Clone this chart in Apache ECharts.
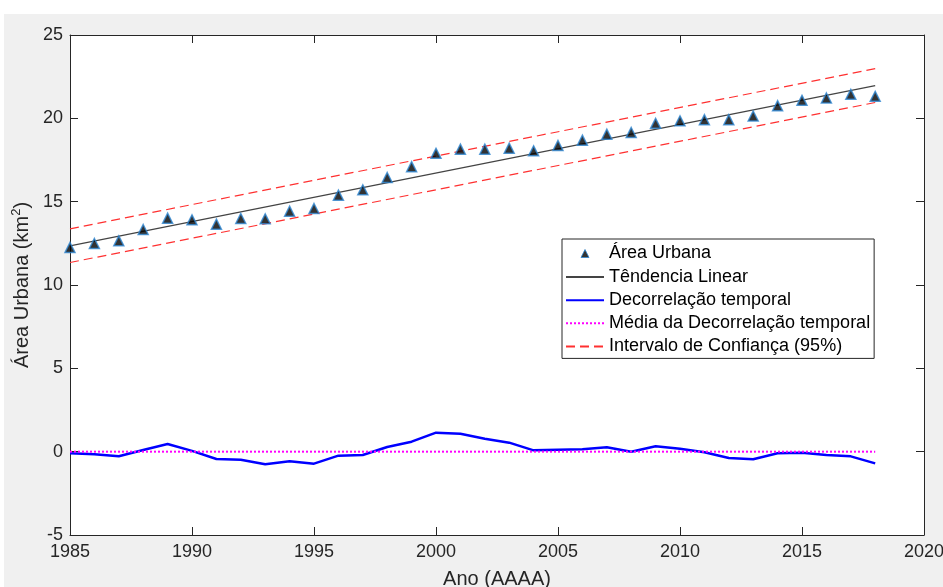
<!DOCTYPE html>
<html>
<head>
<meta charset="utf-8">
<script src="https://cdn.jsdelivr.net/npm/echarts@6/dist/echarts.min.js"></script>
<style>
  html, body { margin: 0; padding: 0; background: #ffffff; }
  #chart { position: absolute; left: 4px; top: 14px; width: 939px; height: 573px; }
</style>
</head>
<body>
<div id="chart"></div>
<script>
// anos observados
var years = [1985,1986,1987,1988,1989,1990,1991,1992,1993,1994,1995,1996,1997,1998,1999,2000,2001,
             2002,2003,2004,2005,2006,2007,2008,2009,2010,2011,2012,2013,2014,2015,2016,2017,2018];
// area urbana (km2)
var areaUrbana = [12.25,12.49,12.65,13.33,14.01,13.91,13.65,13.99,13.97,14.43,14.59,15.39,15.71,16.45,17.1,17.9,18.15,
                  18.15,18.21,18.05,18.37,18.69,19.05,19.15,19.7,19.85,19.92,19.92,20.14,20.76,21.08,21.22,21.44,21.32];
// decorrelacao temporal
var decorrelacao = [-0.1,-0.15,-0.28,0.1,0.46,0.05,-0.44,-0.48,-0.76,-0.58,-0.72,-0.24,-0.2,0.28,0.6,1.14,1.08,
                    0.78,0.54,0.08,0.12,0.14,0.26,0.0,0.32,0.18,-0.03,-0.38,-0.46,-0.1,-0.06,-0.2,-0.28,-0.7];
// extremos das retas
var lineYears = [1985, 2018];
var tendencia = [12.35, 21.96];
var icSup = [13.37, 22.98];
var icInf = [11.35, 20.95];
var mediaDecorr = [0, 0];

function pairs(xs, ys) {
  return xs.map(function (x, i) { return [x, ys[i]]; });
}

var myChart = echarts.init(document.getElementById('chart'));

var font = 'Liberation Sans, Arial, Helvetica, sans-serif';
var axisCol = '#262626';
var hideSym = { opacity: 0 };

option = {
  backgroundColor: '#f0f0f0',
  animation: false,
  textStyle: { fontFamily: font },
  grid: {
    left: 66, right: 19, top: 21, bottom: 52,
    outerBoundsMode: 'none',
    containLabel: false,
    show: true, backgroundColor: '#ffffff', borderWidth: 0
  },
  legend: {
    orient: 'vertical',
    left: 558, top: 225,
    padding: [4, 4, 2, 3],
    itemGap: 3.1,
    itemWidth: 38,
    itemHeight: 20,
    backgroundColor: '#ffffff',
    borderColor: '#262626',
    borderWidth: 1,
    borderRadius: 0,
    textStyle: { fontSize: 18, lineHeight: 20, color: '#000', fontFamily: font },
    data: [
      { name: 'Área Urbana', icon: 'path://M0,0 M20,20 M6,14 L10,6 L14,14 Z',
        itemStyle: { color: '#000000', borderColor: '#2e86d1', borderWidth: 1 } },
      { name: 'Têndencia Linear', itemStyle: hideSym },
      { name: 'Decorrelação temporal', itemStyle: hideSym },
      { name: 'Média da Decorrelação temporal', itemStyle: hideSym },
      { name: 'Intervalo de Confiança (95%)', itemStyle: hideSym }
    ]
  },
  xAxis: [{
    type: 'value',
    min: 1985, max: 2020, interval: 5,
    name: 'Ano (AAAA)',
    nameLocation: 'middle',
    nameGap: 34,
    nameTextStyle: { fontSize: 20, color: axisCol, fontFamily: font },
    axisLine: { onZero: false, lineStyle: { color: axisCol } },
    axisTick: { inside: true, length: 8, lineStyle: { color: axisCol } },
    axisLabel: {
      fontSize: 18, color: axisCol, margin: 8, fontFamily: font,
      formatter: function (v) { return String(v); }
    },
    splitLine: { show: false }
  }, {
    type: 'value', position: 'top',
    min: 1985, max: 2020, interval: 5,
    axisLine: { show: true, onZero: false, lineStyle: { color: axisCol } },
    axisTick: { inside: true, length: 8, lineStyle: { color: axisCol } },
    axisLabel: { show: false },
    splitLine: { show: false }
  }],
  yAxis: [{
    type: 'value',
    min: -5, max: 25, interval: 5,
    name: '{n|Área Urbana (km}{sup|2}{n|)}',
    nameLocation: 'middle',
    nameGap: 30,
    nameTextStyle: {
      fontSize: 20, color: axisCol, fontFamily: font,
      rich: {
        n: { fontSize: 20, lineHeight: 24, color: axisCol, fontFamily: font },
        sup: { fontSize: 13, lineHeight: 13, verticalAlign: 'top', color: axisCol, fontFamily: font }
      }
    },
    axisLine: { show: true, onZero: false, lineStyle: { color: axisCol } },
    axisTick: { inside: true, length: 8, lineStyle: { color: axisCol } },
    axisLabel: { fontSize: 18, color: axisCol, margin: 7, fontFamily: font },
    splitLine: { show: false }
  }, {
    type: 'value', position: 'right',
    min: -5, max: 25, interval: 5,
    axisLine: { show: true, onZero: false, lineStyle: { color: axisCol } },
    axisTick: { inside: true, length: 8, lineStyle: { color: axisCol } },
    axisLabel: { show: false },
    splitLine: { show: false }
  }],
  series: [
    {
      name: 'Área Urbana',
      type: 'scatter',
      symbol: 'triangle',
      symbolSize: 10,
      itemStyle: { color: '#000000', borderColor: '#2e86d1', borderWidth: 1.5 },
      data: pairs(years, areaUrbana),
      z: 5
    },
    {
      name: 'Têndencia Linear',
      type: 'line',
      symbol: 'none',
      lineStyle: { color: '#444444', width: 1.2 },
      itemStyle: { color: '#444444' },
      data: pairs(lineYears, tendencia)
    },
    {
      name: 'Decorrelação temporal',
      type: 'line',
      symbol: 'none',
      lineStyle: { color: '#0000ff', width: 2.5 },
      itemStyle: { color: '#0000ff' },
      data: pairs(years, decorrelacao)
    },
    {
      name: 'Média da Decorrelação temporal',
      type: 'line',
      symbol: 'none',
      lineStyle: { color: '#ff00ff', width: 2, type: [2, 2] },
      itemStyle: { color: '#ff00ff' },
      data: pairs(lineYears, mediaDecorr)
    },
    {
      name: 'Intervalo de Confiança (95%)',
      type: 'line',
      symbol: 'none',
      lineStyle: { color: '#ff3030', width: 1.2, type: [9, 5] },
      itemStyle: { color: '#ff3030' },
      data: pairs(lineYears, icSup)
    },
    {
      name: 'Intervalo de Confiança (95%)',
      type: 'line',
      symbol: 'none',
      lineStyle: { color: '#ff3030', width: 1.2, type: [9, 5] },
      itemStyle: { color: '#ff3030' },
      data: pairs(lineYears, icInf)
    }
  ]
};

myChart.setOption(option);
</script>
</body>
</html>
